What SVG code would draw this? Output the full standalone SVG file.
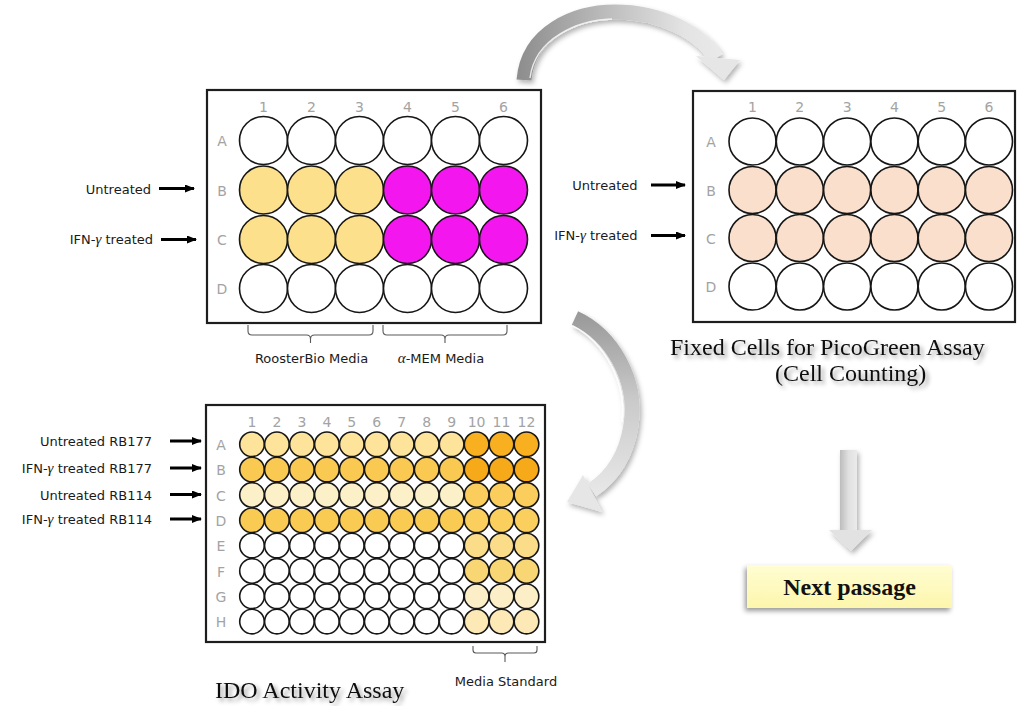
<svg xmlns="http://www.w3.org/2000/svg" width="1018" height="706" viewBox="0 0 1018 706">
  <defs>
    <style>
      .frame { fill: #ffffff; stroke: #1e1e1e; stroke-width: 2.2; }
      .well { stroke: #161616; stroke-width: 1.6; fill: #ffffff; }
      .idx { font-family: "DejaVu Sans", Verdana, sans-serif; font-size: 14px; fill: #a3a3a3; text-anchor: middle; }
      .lbl { font-family: "DejaVu Sans", Verdana, sans-serif; font-size: 13px; fill: #1a1a1a; }
      .end { text-anchor: end; }
      .mid { text-anchor: middle; }
      .gam { font-family: "Liberation Serif", serif; font-style: italic; font-size: 15px; }
      .ptr { stroke: #000000; stroke-width: 3; marker-end: url(#head); }
      .brace { fill: none; stroke: #5a5a5a; stroke-width: 1.1; }
      .title { font-family: "Liberation Serif", "Times New Roman", serif; font-size: 24px; fill: #111111; filter: url(#textShadow); }
      .y { fill: #fce08b; }
      .m { fill: #f416ee; }
      .p { fill: #f9dfcc; }
      .a1 { fill: #fde49a; } .a2 { fill: #f8b020; }
      .b1 { fill: #fac952; } .b2 { fill: #f6aa1a; }
      .c1 { fill: #fcf0c8; } .c2 { fill: #facd5c; }
      .d1 { fill: #f9cb52; } .d2 { fill: #facf5e; }
      .e2 { fill: #fbdc88; } .f2 { fill: #f9d674; }
      .g2 { fill: #fceec6; } .h2 { fill: #fce9b6; }
    </style>
    <marker id="head" viewBox="0 0 10 8" refX="9" refY="4" markerWidth="10" markerHeight="8" markerUnits="userSpaceOnUse" orient="auto">
      <path d="M0,0 L10,4 L0,8 z" fill="#000000"/>
    </marker>
    <filter id="textShadow" x="-10%" y="-40%" width="120%" height="190%">
      <feGaussianBlur in="SourceAlpha" stdDeviation="2.2"/>
      <feOffset dx="3" dy="3" result="b"/>
      <feFlood flood-color="#000000" flood-opacity="0.4"/>
      <feComposite in2="b" operator="in" result="s"/>
      <feMerge><feMergeNode in="s"/><feMergeNode in="SourceGraphic"/></feMerge>
    </filter>
    <filter id="softShadow" x="-30%" y="-30%" width="160%" height="160%">
      <feDropShadow dx="2" dy="3" stdDeviation="2.5" flood-color="#000000" flood-opacity="0.3"/>
    </filter>
    <filter id="boxShadow" x="-10%" y="-30%" width="120%" height="170%">
      <feDropShadow dx="-2" dy="3" stdDeviation="2.5" flood-color="#000000" flood-opacity="0.4"/>
    </filter>
    <linearGradient id="arcTop" gradientUnits="userSpaceOnUse" x1="520" y1="0" x2="740" y2="0">
      <stop offset="0" stop-color="#8e8e8e"/>
      <stop offset="0.4" stop-color="#bdbdbd"/>
      <stop offset="0.75" stop-color="#e4e4e4"/>
      <stop offset="1" stop-color="#ececec"/>
    </linearGradient>
    <linearGradient id="arcSide" gradientUnits="userSpaceOnUse" x1="0" y1="315" x2="0" y2="505">
      <stop offset="0" stop-color="#9a9a9a"/>
      <stop offset="0.45" stop-color="#cacaca"/>
      <stop offset="1" stop-color="#ebebeb"/>
    </linearGradient>
    <linearGradient id="shaft" x1="0" y1="0" x2="1" y2="0">
      <stop offset="0" stop-color="#bcbcbc"/>
      <stop offset="0.5" stop-color="#e0e0e0"/>
      <stop offset="1" stop-color="#ebebeb"/>
    </linearGradient>
    <linearGradient id="note" x1="0" y1="0" x2="0" y2="1">
      <stop offset="0" stop-color="#fffdd2"/>
      <stop offset="1" stop-color="#fdf6ad"/>
    </linearGradient>
  </defs>

  <rect width="1018" height="706" fill="#ffffff"/>

  <!-- 24-well culture plate -->
  <g id="plate-culture">
    <rect class="frame" x="207" y="90" width="334" height="233"/>
    <g class="idx">
      <text x="263.5" y="112">1</text><text x="311.5" y="112">2</text><text x="359.5" y="112">3</text>
      <text x="407.5" y="112">4</text><text x="455.5" y="112">5</text><text x="503.5" y="112">6</text>
      <text x="222" y="146">A</text><text x="222" y="195.5">B</text><text x="222" y="245">C</text><text x="222" y="294">D</text>
    </g>
    <g>
      <circle class="well" cx="263.5" cy="140.5" r="24"/><circle class="well" cx="311.5" cy="140.5" r="24"/><circle class="well" cx="359.5" cy="140.5" r="24"/>
      <circle class="well" cx="407.5" cy="140.5" r="24"/><circle class="well" cx="455.5" cy="140.5" r="24"/><circle class="well" cx="503.5" cy="140.5" r="24"/>
      <circle class="well y" cx="263.5" cy="190" r="24"/><circle class="well y" cx="311.5" cy="190" r="24"/><circle class="well y" cx="359.5" cy="190" r="24"/>
      <circle class="well m" cx="407.5" cy="190" r="24"/><circle class="well m" cx="455.5" cy="190" r="24"/><circle class="well m" cx="503.5" cy="190" r="24"/>
      <circle class="well y" cx="263.5" cy="239.5" r="24"/><circle class="well y" cx="311.5" cy="239.5" r="24"/><circle class="well y" cx="359.5" cy="239.5" r="24"/>
      <circle class="well m" cx="407.5" cy="239.5" r="24"/><circle class="well m" cx="455.5" cy="239.5" r="24"/><circle class="well m" cx="503.5" cy="239.5" r="24"/>
      <circle class="well" cx="263.5" cy="288.5" r="24"/><circle class="well" cx="311.5" cy="288.5" r="24"/><circle class="well" cx="359.5" cy="288.5" r="24"/>
      <circle class="well" cx="407.5" cy="288.5" r="24"/><circle class="well" cx="455.5" cy="288.5" r="24"/><circle class="well" cx="503.5" cy="288.5" r="24"/>
    </g>
    <text class="lbl end" x="151" y="193.5">Untreated</text>
    <line class="ptr" x1="159" y1="188.5" x2="194" y2="188.5"/>
    <text class="lbl end" x="153" y="244">IFN-<tspan class="gam">γ</tspan> treated</text>
    <line class="ptr" x1="161" y1="239.5" x2="196" y2="239.5"/>
    <path class="brace" d="M248,325 V331 Q248,335 252,335 H306.5 Q310.5,335 310.5,339 V343 M310.5,339 Q310.5,335 314.5,335 H369 Q373,335 373,331 V325"/>
    <path class="brace" d="M383,325 V331 Q383,335 387,335 H441 Q445,335 445,339 V343 M445,339 Q445,335 449,335 H503 Q507,335 507,331 V325"/>
    <text class="lbl mid" x="311.5" y="363">RoosterBio Media</text>
    <text class="lbl mid" x="441" y="363"><tspan class="gam">α</tspan>-MEM Media</text>
  </g>

  <!-- 24-well plate, fixed cells -->
  <g id="plate-picogreen">
    <rect class="frame" x="693" y="91" width="322" height="231"/>
    <g class="idx">
      <text x="752.5" y="112">1</text><text x="799.8" y="112">2</text><text x="847.1" y="112">3</text>
      <text x="894.4" y="112">4</text><text x="941.7" y="112">5</text><text x="989" y="112">6</text>
      <text x="711" y="147">A</text><text x="711" y="195.5">B</text><text x="711" y="243.5">C</text><text x="711" y="292">D</text>
    </g>
    <g>
      <circle class="well" cx="752.5" cy="141.5" r="23.5"/><circle class="well" cx="799.8" cy="141.5" r="23.5"/><circle class="well" cx="847.1" cy="141.5" r="23.5"/>
      <circle class="well" cx="894.4" cy="141.5" r="23.5"/><circle class="well" cx="941.7" cy="141.5" r="23.5"/><circle class="well" cx="989" cy="141.5" r="23.5"/>
      <circle class="well p" cx="752.5" cy="190" r="23.5"/><circle class="well p" cx="799.8" cy="190" r="23.5"/><circle class="well p" cx="847.1" cy="190" r="23.5"/>
      <circle class="well p" cx="894.4" cy="190" r="23.5"/><circle class="well p" cx="941.7" cy="190" r="23.5"/><circle class="well p" cx="989" cy="190" r="23.5"/>
      <circle class="well p" cx="752.5" cy="238" r="23.5"/><circle class="well p" cx="799.8" cy="238" r="23.5"/><circle class="well p" cx="847.1" cy="238" r="23.5"/>
      <circle class="well p" cx="894.4" cy="238" r="23.5"/><circle class="well p" cx="941.7" cy="238" r="23.5"/><circle class="well p" cx="989" cy="238" r="23.5"/>
      <circle class="well" cx="752.5" cy="286.5" r="23.5"/><circle class="well" cx="799.8" cy="286.5" r="23.5"/><circle class="well" cx="847.1" cy="286.5" r="23.5"/>
      <circle class="well" cx="894.4" cy="286.5" r="23.5"/><circle class="well" cx="941.7" cy="286.5" r="23.5"/><circle class="well" cx="989" cy="286.5" r="23.5"/>
    </g>
    <text class="lbl end" x="637.5" y="189.5">Untreated</text>
    <line class="ptr" x1="651" y1="185" x2="685" y2="185"/>
    <text class="lbl end" x="637.5" y="240">IFN-<tspan class="gam">γ</tspan> treated</text>
    <line class="ptr" x1="651" y1="235.5" x2="685" y2="235.5"/>
    <text class="title" x="670" y="355">Fixed Cells for PicoGreen Assay</text>
    <text class="title" x="775" y="381">(Cell Counting)</text>
  </g>

  <!-- 96-well IDO assay plate -->
  <g id="plate-ido">
    <rect class="frame" x="206" y="405" width="339" height="237"/>
    <g class="idx">
      <text x="252" y="427">1</text><text x="276.9" y="427">2</text><text x="301.9" y="427">3</text><text x="326.9" y="427">4</text>
      <text x="351.8" y="427">5</text><text x="376.8" y="427">6</text><text x="401.7" y="427">7</text><text x="426.7" y="427">8</text>
      <text x="451.6" y="427">9</text><text x="476.6" y="427">10</text><text x="501.5" y="427">11</text><text x="526.5" y="427">12</text>
      <text x="221" y="450">A</text><text x="221" y="475">B</text><text x="221" y="500.5">C</text><text x="221" y="526">D</text>
      <text x="221" y="551">E</text><text x="221" y="576.5">F</text><text x="221" y="602">G</text><text x="221" y="627">H</text>
    </g>
    <g>
      <!-- row A -->
      <circle class="well a1" cx="252" cy="444.3" r="12.3"/><circle class="well a1" cx="276.9" cy="444.3" r="12.3"/><circle class="well a1" cx="301.9" cy="444.3" r="12.3"/>
      <circle class="well a1" cx="326.9" cy="444.3" r="12.3"/><circle class="well a1" cx="351.8" cy="444.3" r="12.3"/><circle class="well a1" cx="376.8" cy="444.3" r="12.3"/>
      <circle class="well a1" cx="401.7" cy="444.3" r="12.3"/><circle class="well a1" cx="426.7" cy="444.3" r="12.3"/><circle class="well a1" cx="451.6" cy="444.3" r="12.3"/>
      <circle class="well a2" cx="476.6" cy="444.3" r="12.3"/><circle class="well a2" cx="501.5" cy="444.3" r="12.3"/><circle class="well a2" cx="526.5" cy="444.3" r="12.3"/>
      <!-- row B -->
      <circle class="well b1" cx="252" cy="469.6" r="12.3"/><circle class="well b1" cx="276.9" cy="469.6" r="12.3"/><circle class="well b1" cx="301.9" cy="469.6" r="12.3"/>
      <circle class="well b1" cx="326.9" cy="469.6" r="12.3"/><circle class="well b1" cx="351.8" cy="469.6" r="12.3"/><circle class="well b1" cx="376.8" cy="469.6" r="12.3"/>
      <circle class="well b1" cx="401.7" cy="469.6" r="12.3"/><circle class="well b1" cx="426.7" cy="469.6" r="12.3"/><circle class="well b1" cx="451.6" cy="469.6" r="12.3"/>
      <circle class="well b2" cx="476.6" cy="469.6" r="12.3"/><circle class="well b2" cx="501.5" cy="469.6" r="12.3"/><circle class="well b2" cx="526.5" cy="469.6" r="12.3"/>
      <!-- row C -->
      <circle class="well c1" cx="252" cy="494.9" r="12.3"/><circle class="well c1" cx="276.9" cy="494.9" r="12.3"/><circle class="well c1" cx="301.9" cy="494.9" r="12.3"/>
      <circle class="well c1" cx="326.9" cy="494.9" r="12.3"/><circle class="well c1" cx="351.8" cy="494.9" r="12.3"/><circle class="well c1" cx="376.8" cy="494.9" r="12.3"/>
      <circle class="well c1" cx="401.7" cy="494.9" r="12.3"/><circle class="well c1" cx="426.7" cy="494.9" r="12.3"/><circle class="well c1" cx="451.6" cy="494.9" r="12.3"/>
      <circle class="well c2" cx="476.6" cy="494.9" r="12.3"/><circle class="well c2" cx="501.5" cy="494.9" r="12.3"/><circle class="well c2" cx="526.5" cy="494.9" r="12.3"/>
      <!-- row D -->
      <circle class="well d1" cx="252" cy="520.3" r="12.3"/><circle class="well d1" cx="276.9" cy="520.3" r="12.3"/><circle class="well d1" cx="301.9" cy="520.3" r="12.3"/>
      <circle class="well d1" cx="326.9" cy="520.3" r="12.3"/><circle class="well d1" cx="351.8" cy="520.3" r="12.3"/><circle class="well d1" cx="376.8" cy="520.3" r="12.3"/>
      <circle class="well d1" cx="401.7" cy="520.3" r="12.3"/><circle class="well d1" cx="426.7" cy="520.3" r="12.3"/><circle class="well d1" cx="451.6" cy="520.3" r="12.3"/>
      <circle class="well d2" cx="476.6" cy="520.3" r="12.3"/><circle class="well d2" cx="501.5" cy="520.3" r="12.3"/><circle class="well d2" cx="526.5" cy="520.3" r="12.3"/>
      <!-- row E -->
      <circle class="well" cx="252" cy="545.6" r="12.3"/><circle class="well" cx="276.9" cy="545.6" r="12.3"/><circle class="well" cx="301.9" cy="545.6" r="12.3"/>
      <circle class="well" cx="326.9" cy="545.6" r="12.3"/><circle class="well" cx="351.8" cy="545.6" r="12.3"/><circle class="well" cx="376.8" cy="545.6" r="12.3"/>
      <circle class="well" cx="401.7" cy="545.6" r="12.3"/><circle class="well" cx="426.7" cy="545.6" r="12.3"/><circle class="well" cx="451.6" cy="545.6" r="12.3"/>
      <circle class="well e2" cx="476.6" cy="545.6" r="12.3"/><circle class="well e2" cx="501.5" cy="545.6" r="12.3"/><circle class="well e2" cx="526.5" cy="545.6" r="12.3"/>
      <!-- row F -->
      <circle class="well" cx="252" cy="570.9" r="12.3"/><circle class="well" cx="276.9" cy="570.9" r="12.3"/><circle class="well" cx="301.9" cy="570.9" r="12.3"/>
      <circle class="well" cx="326.9" cy="570.9" r="12.3"/><circle class="well" cx="351.8" cy="570.9" r="12.3"/><circle class="well" cx="376.8" cy="570.9" r="12.3"/>
      <circle class="well" cx="401.7" cy="570.9" r="12.3"/><circle class="well" cx="426.7" cy="570.9" r="12.3"/><circle class="well" cx="451.6" cy="570.9" r="12.3"/>
      <circle class="well f2" cx="476.6" cy="570.9" r="12.3"/><circle class="well f2" cx="501.5" cy="570.9" r="12.3"/><circle class="well f2" cx="526.5" cy="570.9" r="12.3"/>
      <!-- row G -->
      <circle class="well" cx="252" cy="596.3" r="12.3"/><circle class="well" cx="276.9" cy="596.3" r="12.3"/><circle class="well" cx="301.9" cy="596.3" r="12.3"/>
      <circle class="well" cx="326.9" cy="596.3" r="12.3"/><circle class="well" cx="351.8" cy="596.3" r="12.3"/><circle class="well" cx="376.8" cy="596.3" r="12.3"/>
      <circle class="well" cx="401.7" cy="596.3" r="12.3"/><circle class="well" cx="426.7" cy="596.3" r="12.3"/><circle class="well" cx="451.6" cy="596.3" r="12.3"/>
      <circle class="well g2" cx="476.6" cy="596.3" r="12.3"/><circle class="well g2" cx="501.5" cy="596.3" r="12.3"/><circle class="well g2" cx="526.5" cy="596.3" r="12.3"/>
      <!-- row H -->
      <circle class="well" cx="252" cy="621.6" r="12.3"/><circle class="well" cx="276.9" cy="621.6" r="12.3"/><circle class="well" cx="301.9" cy="621.6" r="12.3"/>
      <circle class="well" cx="326.9" cy="621.6" r="12.3"/><circle class="well" cx="351.8" cy="621.6" r="12.3"/><circle class="well" cx="376.8" cy="621.6" r="12.3"/>
      <circle class="well" cx="401.7" cy="621.6" r="12.3"/><circle class="well" cx="426.7" cy="621.6" r="12.3"/><circle class="well" cx="451.6" cy="621.6" r="12.3"/>
      <circle class="well h2" cx="476.6" cy="621.6" r="12.3"/><circle class="well h2" cx="501.5" cy="621.6" r="12.3"/><circle class="well h2" cx="526.5" cy="621.6" r="12.3"/>
    </g>
    <text class="lbl end" x="152" y="446">Untreated RB177</text>
    <line class="ptr" x1="170" y1="441" x2="201" y2="441"/>
    <text class="lbl end" x="152" y="473">IFN-<tspan class="gam">γ</tspan> treated RB177</text>
    <line class="ptr" x1="170" y1="468" x2="201" y2="468"/>
    <text class="lbl end" x="152" y="499.5">Untreated RB114</text>
    <line class="ptr" x1="170" y1="494.5" x2="201" y2="494.5"/>
    <text class="lbl end" x="152" y="524">IFN-<tspan class="gam">γ</tspan> treated RB114</text>
    <line class="ptr" x1="170" y1="519" x2="201" y2="519"/>
    <path class="brace" d="M473,646 V650 Q473,653 476,653 H501.5 Q505,653 505,656.5 V662 M505,656.5 Q505,653 508.5,653 H534 Q537,653 537,650 V646"/>
    <text class="lbl mid" x="506" y="686">Media Standard</text>
    <text class="title" x="215" y="698">IDO Activity Assay</text>
  </g>

  <!-- next step -->
  <g id="next-passage">
    <rect x="747" y="565" width="205" height="43" fill="url(#note)" filter="url(#boxShadow)"/>
    <text x="849.5" y="595" text-anchor="middle" font-family="Liberation Serif, 'Times New Roman', serif" font-size="24" font-weight="bold" fill="#111111">Next passage</text>
  </g>

  <!-- process arrows -->
  <g id="connectors" filter="url(#softShadow)">
    <g id="arrow-to-picogreen">
      <path d="M524,80 C528,32 575,12 615,12 C660,12 700,32 716,58" fill="none" stroke="url(#arcTop)" stroke-width="15"/>
      <path d="M530,78 C535,38 578,20 612,19" fill="none" stroke="#ffffff" stroke-width="1.3" stroke-opacity="0.8"/>
      <polygon points="696,56 740,60 724,80" fill="#e6e6e6"/>
    </g>
    <g id="arrow-to-ido">
      <path d="M575,318 C612,335 638,380 631,425 C626,458 610,478 592,490" fill="none" stroke="url(#arcSide)" stroke-width="15"/>
      <path d="M573,326 C604,342 627,382 622,422" fill="none" stroke="#ffffff" stroke-width="1.3" stroke-opacity="0.8"/>
      <polygon points="583,475 602,512 567,502" fill="#e6e6e6"/>
    </g>
    <g id="arrow-to-next">
      <rect x="840" y="450" width="17" height="81" fill="url(#shaft)"/>
      <polygon points="829,530 872,530 851,551" fill="#e2e2e2"/>
    </g>
  </g>
</svg>
